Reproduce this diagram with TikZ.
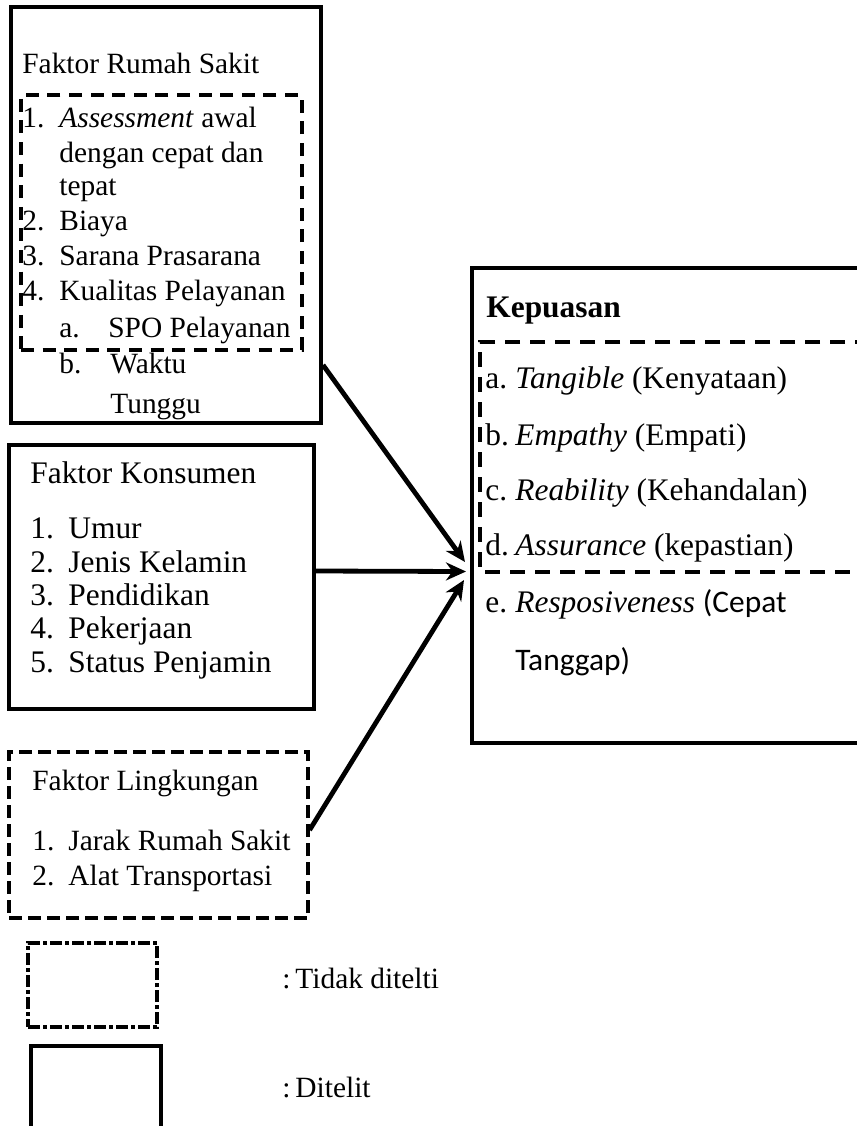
\documentclass[tikz,border=0pt]{standalone}
\usepackage{fontspec}
\setmainfont{Liberation Serif}
\newfontfamily\cali{Carlito}
\usetikzlibrary{arrows.meta}
\begin{document}
\begin{tikzpicture}[x=0.5pt,y=-0.5pt,
  solidbox/.style={draw, line width=2pt, inner sep=0pt, rectangle},
  dashbox/.style={draw, line width=1.6pt, inner sep=0pt, rectangle, dash pattern=on 6.5pt off 4.3pt},
  dashline/.style={line width=1.6pt, dash pattern=on 7.5pt off 5pt},
  dotbox/.style={draw, line width=1.6pt, inner sep=0pt, rectangle, dash pattern=on 6pt off 1.5pt on 2pt off 1.5pt},
  txt/.style={anchor=base west, inner sep=0pt},
  fa/.style={font=\fontsize{14.7pt}{17pt}\selectfont},
  fb/.style={font=\fontsize{15.7pt}{18pt}\selectfont},
  fc/.style={font=\fontsize{15.7pt}{18pt}\selectfont},
  arr/.style={line width=2.4pt, -{Stealth[length=10pt,width=9pt]}}]
\path[use as bounding box, clip] (0,0) rectangle (857,1126);

% Faktor Rumah Sakit
\node[solidbox, minimum width=155pt, minimum height=208pt] (rs) at (166,215) {};
\node[dashbox, minimum width=140.5pt, minimum height=127.5pt] (rsd) at (161.5,222.5) {};
\node[txt,fa] (rs0) at (22,73) {Faktor Rumah Sakit};
\node[txt,fa] (rs1n) at (22,127) {1.};
\node[txt,fa] (rs1) at (59,127) {\textit{Assessment} awal};
\node[txt,fa] (rs1b) at (59,162) {dengan cepat dan};
\node[txt,fa] (rs1c) at (59,195) {tepat};
\node[txt,fa] (rs2n) at (22,230) {2.};
\node[txt,fa] (rs2) at (59,230) {Biaya};
\node[txt,fa] (rs3n) at (22,265) {3.};
\node[txt,fa] (rs3) at (59,265) {Sarana Prasarana};
\node[txt,fa] (rs4n) at (22,300) {4.};
\node[txt,fa] (rs4) at (59,300) {Kualitas Pelayanan};
\node[txt,fa] (rsan) at (59,337) {a.};
\node[txt,fa] (rsa) at (108,337) {SPO Pelayanan};
\node[txt,fa] (rsbn) at (59,373) {b.};
\node[txt,fa] (rsb) at (110,373) {Waktu};
\node[txt,fa] (rsb2) at (110,413) {Tunggu};

% Faktor Konsumen
\node[solidbox, minimum width=152.5pt, minimum height=132pt] (kon) at (161.5,577) {};
\node[txt,fb] (k0) at (30,483) {Faktor Konsumen};
\node[txt,fb] (k1n) at (30,538) {1.};
\node[txt,fb] (k1) at (68,538) {Umur};
\node[txt,fb] (k2n) at (30,572) {2.};
\node[txt,fb] (k2) at (68,572) {Jenis Kelamin};
\node[txt,fb] (k3n) at (30,605) {3.};
\node[txt,fb] (k3) at (68,605) {Pendidikan};
\node[txt,fb] (k4n) at (30,638) {4.};
\node[txt,fb] (k4) at (68,638) {Pekerjaan};
\node[txt,fb] (k5n) at (30,672) {5.};
\node[txt,fb] (k5) at (68,672) {Status Penjamin};

% Faktor Lingkungan
\node[dashbox, dash pattern=on 6.5pt off 3pt, minimum width=149.5pt, minimum height=83pt] (lin) at (158.5,835) {};
\node[txt,fa] (l0) at (32,790) {Faktor Lingkungan};
\node[txt,fa] (l1n) at (32,850) {1.};
\node[txt,fa] (l1) at (68,850) {Jarak Rumah Sakit};
\node[txt,fa] (l2n) at (32,885) {2.};
\node[txt,fa] (l2) at (68,885) {Alat Transportasi};

% Kepuasan
\node[solidbox, minimum width=214pt, minimum height=237.5pt] (kep) at (686,505.5) {};
\draw[dashline] (870,342) -- (480,342) -- (480,572) -- (850,572);
\node[txt,fc] (kp0) at (486,317) {\textbf{Kepuasan}};
\node[txt,fc] (kpan) at (485,388) {a.};
\node[txt,fc] (kpa) at (515,388) {\textit{Tangible} (Kenyataan)};
\node[txt,fc] (kpbn) at (485,445) {b.};
\node[txt,fc] (kpb) at (515,445) {\textit{Empathy} (Empati)};
\node[txt,fc] (kpcn) at (485,500) {c.};
\node[txt,fc] (kpc) at (515,500) {\textit{Reability} (Kehandalan)};
\node[txt,fc] (kpdn) at (485,555) {d.};
\node[txt,fc] (kpd) at (515,555) {\textit{Assurance} (kepastian)};
\node[txt,fc] (kpen) at (485,612) {e.};
\node[txt,fc] (kpe) at (515,612) {\textit{Resposiveness} {\cali (Cepat}};
\node[txt,fc] (kpe2) at (515,670) {\cali Tanggap)};

% arrows
\coordinate (tip1) at (465,562);
\coordinate (tip3) at (464,580);
\draw[arr] ([yshift=-75pt]rs.east) -- (tip1);
\draw[arr] ([yshift=3pt]kon.east) -- ([yshift=-33pt,xshift=-2pt]kep.west);
\draw[arr] ([yshift=2.5pt]lin.east) -- (tip3);

% legend
\node[dotbox, minimum width=64.5pt, minimum height=42pt] (lg1) at (92.5,985) {};
\node[solidbox, minimum width=65pt, minimum height=50pt] (lg2) at (96,1096) {};
\node[txt,fa] (lt1) at (282,988) {:\,Tidak ditelti};
\node[txt,fa] (lt2) at (282,1097) {:\,Ditelit};
\end{tikzpicture}
\end{document}
